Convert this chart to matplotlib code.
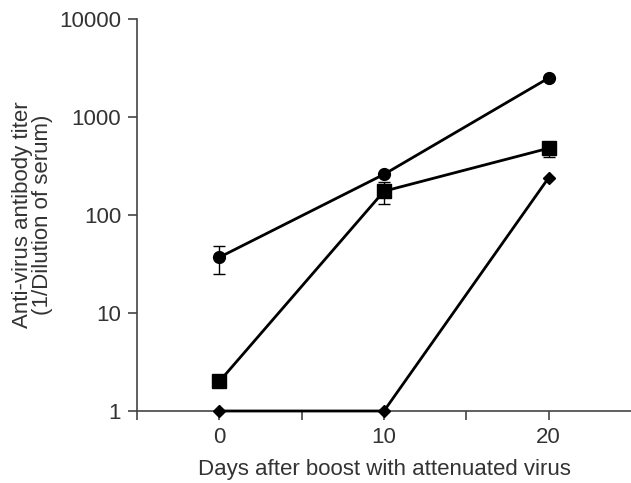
import numpy as np
import matplotlib
matplotlib.use("Agg")
import matplotlib.pyplot as plt

plt.rcParams['font.family'] = ['Liberation Sans', 'DejaVu Sans']

days = [0, 10, 20]

# circles
circle_titer = [37, 260, 2500]
circle_lo = [25, 260, 2500]
circle_hi = [48, 260, 2500]

# squares
square_titer = [2, 175, 480]
square_lo = [2, 130, 390]
square_hi = [2, 215, 560]

# diamonds
diamond_titer = [1, 1, 240]

text_color = "#333333"

fig = plt.figure(figsize=(6.31, 4.83), dpi=100)
ax = fig.add_axes([137 / 631, 1 - 411 / 483, 1 - 137 / 631, (411 - 19) / 483])


def draw_series(y, lo, hi, marker, ms):
  y = np.array(y, dtype=float)
  yerr = np.array([y - np.array(lo), np.array(hi) - y])
  ax.errorbar(days, y, yerr=yerr, fmt='-', color='black', lw=2,
              marker=marker, ms=ms, ecolor='black', elinewidth=1,
              capsize=4, capthick=1, clip_on=False, zorder=3)


draw_series(circle_titer, circle_lo, circle_hi, 'o', 8.5)
draw_series(square_titer, square_lo, square_hi, 's', 9.5)
ax.plot(days, diamond_titer, '-', color='black', lw=2, marker='D',
        ms=6.5, clip_on=False, zorder=3)

ax.set_yscale('log')
ax.set_ylim(1, 10000)
ax.set_xlim(-5, 25)
ax.set_yticks([1, 10, 100, 1000, 10000])
ax.set_yticklabels(['1', '10', '100', '1000', '10000'])
ax.yaxis.set_minor_locator(matplotlib.ticker.NullLocator())
ax.set_xticks([-5, 0, 5, 10, 15, 20])
ax.set_xticklabels(['', '0', '', '10', '', '20'])

for side in ['top', 'right']:
  ax.spines[side].set_visible(False)
for side in ['left', 'bottom']:
  ax.spines[side].set_color('#444444')
  ax.spines[side].set_linewidth(1.2)

ax.tick_params(axis='both', colors='#444444', labelcolor=text_color,
               labelsize=16, width=1.2, length=6.5, pad=5)

ax.set_xlabel('Days after boost with attenuated virus', fontsize=16,
              color=text_color, labelpad=8)
ax.set_ylabel('Anti-virus antibody titer\n(1/Dilution of serum)', fontsize=16,
              color=text_color, labelpad=4, linespacing=0.95)

fig.savefig('out.png', dpi=100)
